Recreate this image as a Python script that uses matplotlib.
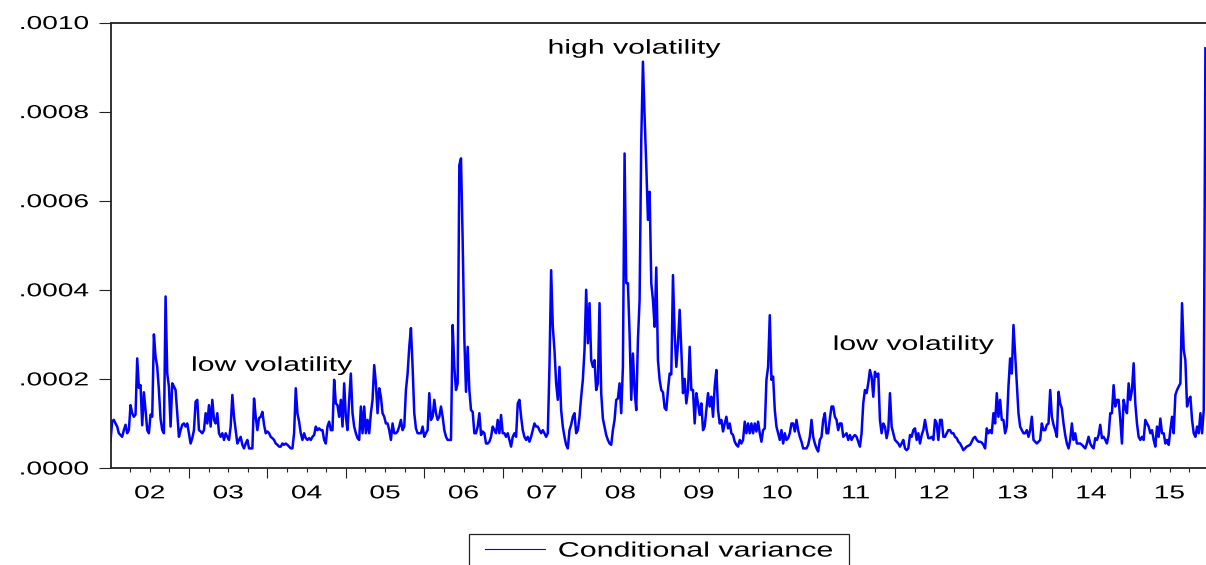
import numpy as np
import matplotlib
matplotlib.use('Agg')
import matplotlib.pyplot as plt
from matplotlib.lines import Line2D
from matplotlib.legend_handler import HandlerLine2D
from matplotlib.patheffects import AbstractPathEffect
from matplotlib.transforms import Affine2D

plt.rcParams['font.family'] = ['Liberation Sans', 'DejaVu Sans']

# conditional variance (units of 1e-4), 47 readings per year
cv_2002 = [0.6, 1.05, 1.08, 1.0, 0.93, 0.78, 0.74, 0.7, 0.85, 0.97, 0.78, 0.85, 1.41, 1.23, 1.15, 1.2,
           2.46, 1.8, 1.86, 0.96, 1.7, 1.3, 0.85, 0.78, 1.2, 1.15, 3.0, 2.5, 2.27, 1.75, 1.1, 0.85,
           0.78, 3.85, 2.12, 1.83, 0.93, 1.9, 1.83, 1.75, 1.23, 0.7, 0.85, 0.97, 1.0, 0.93, 1.0]
cv_2003 = [0.78, 0.55, 0.67, 0.85, 1.49, 1.53, 0.85, 0.82, 0.78, 0.85, 1.23, 1.0, 1.41, 0.93, 1.53, 1.08,
           1.0, 1.23, 0.78, 0.7, 0.78, 0.63, 0.78, 0.7, 0.63, 0.93, 1.64, 1.15, 0.85, 0.55, 0.63, 0.7,
           0.52, 0.44, 0.55, 0.63, 0.44, 0.44, 0.44, 1.56, 1.15, 0.85, 1.12, 1.15, 1.26, 0.97, 0.78]
cv_2004 = [0.82, 0.78, 0.7, 0.67, 0.63, 0.55, 0.52, 0.48, 0.48, 0.55, 0.52, 0.55, 0.52, 0.48, 0.44, 0.44,
           0.78, 1.79, 1.23, 1.04, 0.78, 0.63, 0.78, 0.67, 0.63, 0.67, 0.63, 0.7, 0.74, 0.93, 0.85, 0.89,
           0.85, 0.85, 0.63, 0.55, 0.93, 1.04, 0.85, 0.85, 1.98, 1.45, 1.41, 1.15, 1.53, 0.93, 1.9]
cv_2005 = [1.15, 0.85, 1.53, 2.12, 1.23, 0.93, 0.78, 0.67, 0.63, 1.38, 0.78, 1.38, 0.78, 1.08, 0.78, 1.23,
           1.53, 2.31, 1.9, 1.23, 1.79, 1.6, 1.23, 1.15, 1.0, 1.0, 0.85, 0.63, 1.0, 0.78, 0.78, 0.82,
           0.93, 1.08, 0.85, 0.93, 1.75, 2.12, 2.72, 3.14, 2.27, 1.23, 0.89, 0.78, 0.78, 0.78, 0.93]
cv_2006 = [0.7, 0.78, 0.85, 1.68, 1.08, 1.15, 1.53, 1.23, 1.08, 1.15, 1.38, 1.15, 0.85, 0.7, 0.63, 0.63,
           0.63, 3.21, 2.27, 1.75, 1.9, 6.8, 6.95, 5.1, 2.9, 1.71, 2.72, 1.75, 1.3, 1.26, 0.78, 0.78,
           0.93, 1.23, 0.74, 0.82, 0.78, 0.55, 0.55, 0.59, 0.7, 0.93, 0.85, 0.78, 1.08, 0.78, 1.19]
cv_2007 = [0.78, 0.78, 0.7, 0.78, 0.63, 0.48, 0.7, 0.78, 0.7, 1.45, 1.53, 1.15, 0.85, 0.7, 0.63, 0.7,
           0.59, 0.7, 0.85, 1.0, 0.93, 0.93, 0.85, 0.78, 0.85, 0.78, 0.7, 0.78, 2.27, 4.44, 3.17, 2.65,
           1.9, 1.53, 2.27, 1.3, 0.93, 0.7, 0.52, 0.44, 0.85, 0.97, 1.15, 1.23, 0.78, 0.85, 1.15]
cv_2008 = [1.6, 1.98, 2.65, 4.0, 2.8, 3.7, 2.42, 2.27, 2.42, 1.75, 1.9, 3.7, 1.68, 1.11, 0.93, 0.74,
           0.63, 0.55, 0.52, 0.85, 1.08, 1.53, 1.56, 1.9, 1.23, 2.27, 7.06, 4.15, 4.15, 3.02, 1.53, 2.57,
           1.75, 1.3, 2.87, 3.77, 7.36, 9.12, 7.89, 6.8, 5.57, 6.2, 4.15, 3.77, 3.17, 4.5, 2.42]
cv_2009 = [1.98, 1.75, 1.7, 1.35, 1.3, 1.75, 2.12, 2.1, 4.33, 3.02, 2.27, 2.8, 3.55, 2.65, 1.68, 2.0,
           1.45, 1.75, 2.72, 1.75, 1.75, 1.0, 1.68, 1.45, 1.19, 1.45, 0.85, 0.93, 1.3, 1.68, 1.38, 1.6,
           1.15, 1.83, 2.2, 1.3, 1.0, 1.08, 0.82, 1.0, 1.15, 0.89, 1.0, 0.78, 0.74, 0.59, 0.52]
cv_2010 = [0.48, 0.63, 0.55, 0.63, 1.04, 0.78, 1.0, 0.78, 1.0, 0.78, 1.0, 0.82, 1.04, 0.78, 0.59, 0.85,
           0.89, 1.98, 2.27, 3.43, 1.98, 2.05, 1.3, 0.93, 0.78, 0.63, 0.85, 0.55, 0.78, 0.63, 0.67, 0.78,
           1.0, 1.0, 0.82, 1.08, 0.85, 0.7, 0.59, 0.44, 0.44, 0.44, 0.52, 0.7, 1.08, 0.7, 0.55]
cv_2011 = [0.44, 0.37, 0.63, 0.7, 1.08, 1.23, 0.78, 0.78, 1.11, 1.38, 1.38, 1.15, 1.08, 0.85, 1.0, 1.0,
           0.7, 0.74, 0.78, 0.63, 0.74, 0.63, 0.7, 0.74, 0.7, 0.59, 0.48, 0.78, 1.45, 1.75, 1.68, 1.9,
           2.2, 2.05, 1.6, 2.16, 2.05, 2.12, 1.08, 0.78, 1.0, 0.93, 0.67, 0.85, 1.68, 0.93, 0.78]
cv_2012 = [0.63, 0.59, 0.55, 0.48, 0.55, 0.63, 0.44, 0.4, 0.44, 0.74, 0.7, 0.85, 0.89, 0.63, 0.78, 0.55,
           0.74, 0.85, 1.08, 0.85, 0.67, 0.67, 0.7, 0.63, 1.08, 1.0, 0.63, 1.08, 1.08, 0.7, 0.7, 0.78,
           0.85, 0.85, 0.78, 0.78, 0.7, 0.67, 0.59, 0.55, 0.48, 0.4, 0.44, 0.48, 0.5, 0.52, 0.59]
cv_2013 = [0.67, 0.7, 0.63, 0.59, 0.59, 0.57, 0.52, 0.44, 0.89, 0.78, 0.85, 0.78, 1.23, 1.0, 1.68, 1.15,
           1.53, 1.08, 1.08, 0.78, 0.93, 1.83, 2.46, 2.12, 3.21, 2.57, 1.9, 1.23, 0.93, 0.85, 0.78, 0.78,
           0.85, 0.7, 0.85, 1.15, 0.63, 0.59, 0.55, 0.59, 0.63, 1.0, 0.85, 0.85, 0.97, 1.0, 1.75]
cv_2014 = [1.15, 0.97, 0.85, 0.7, 1.71, 1.45, 1.34, 1.0, 0.74, 0.55, 0.44, 0.63, 1.0, 0.63, 0.78, 0.55,
           0.55, 0.55, 0.52, 0.48, 0.44, 0.55, 0.7, 0.55, 0.48, 0.44, 0.67, 0.63, 0.74, 0.97, 0.67, 0.7,
           0.63, 0.55, 0.74, 1.23, 1.23, 1.86, 1.38, 1.53, 1.53, 1.08, 0.55, 1.53, 1.34, 1.23, 1.9]
cv_2015 = [1.53, 1.75, 2.35, 1.45, 1.0, 0.7, 0.63, 0.7, 0.63, 1.08, 1.0, 0.93, 0.78, 0.85, 0.63, 0.48,
           0.93, 0.7, 1.11, 0.78, 0.78, 0.55, 0.63, 0.52, 0.85, 1.15, 0.78, 1.64, 1.75, 1.83, 1.9, 3.7,
           2.65, 2.42, 1.38, 1.53, 1.6, 1.08, 0.78, 0.7, 0.93, 0.78, 1.23, 0.78, 1.3, 9.42]

years = list(range(2002, 2016))
year_labels = ['02', '03', '04', '05', '06', '07', '08', '09', '10', '11', '12', '13', '14', '15']
y_ticks = [0.0, 0.0002, 0.0004, 0.0006, 0.0008, 0.0010]
y_labels = ['.0000', '.0002', '.0004', '.0006', '.0008', '.0010']

series = [cv_2002, cv_2003, cv_2004, cv_2005, cv_2006, cv_2007, cv_2008,
          cv_2009, cv_2010, cv_2011, cv_2012, cv_2013, cv_2014, cv_2015]
t, v = [], []
for yr, vals in zip(years, series):
    t.extend(yr + np.arange(len(vals)) / 47.0)
    v.extend(vals)
t = np.array(t)
v = np.array(v) * 1e-4


class Stretch(AbstractPathEffect):
    # widen glyphs horizontally (the source output has stretched text)
    def __init__(self, sx, anchor=0.5):
        super().__init__()
        self.sx = sx
        self.anchor = anchor

    def draw_path(self, renderer, gc, tpath, affine, rgbFace=None):
        ext = tpath.get_extents()
        x0 = ext.x0 + self.anchor * ext.width
        tr = Affine2D().translate(-x0, 0).scale(self.sx, 1).translate(x0, 0) + affine
        renderer.draw_path(gc, tpath, tr, rgbFace)


SX = 1.5
fig = plt.figure(figsize=(12.06, 5.65), dpi=100)
ax = fig.add_axes([110.5 / 1206, 1 - 468 / 565, 1 - 110.5 / 1206, (468 - 22.5) / 565])

ax.plot(t, v, color='#0000ff', lw=1.8)

ax.set_xlim(2002, 2015.965)
ax.set_ylim(0, 0.001)

for s in ['left', 'top', 'bottom']:
    ax.spines[s].set_linewidth(1.3)
    ax.spines[s].set_color('#222222')
ax.spines['right'].set_visible(False)

ax.set_yticks(y_ticks, y_labels)
ax.tick_params(axis='y', length=9, width=0.8, pad=6.5, labelsize=13.5, color='#222222')
for lab in ax.get_yticklabels():
    lab.set_path_effects([Stretch(SX, 1.0)])

ax.set_xticks([y + q / 4 for y in years for q in (1, 2, 3)])
ax.set_xticks(years[1:], minor=True)
ax.tick_params(axis='x', which='major', length=3.2, width=0.8, labelbottom=False, color='#222222')
ax.tick_params(axis='x', which='minor', length=7, width=0.8, labelbottom=False, color='#222222')

sec = ax.secondary_xaxis('bottom')
sec.set_xticks([y + 0.5 for y in years], year_labels)
sec.tick_params(length=0, pad=12.5, labelsize=13.5)
sec.spines['bottom'].set_visible(False)
for lab in sec.get_xticklabels():
    lab.set_path_effects([Stretch(SX, 0.5)])

notes = [('high volatility', 2008.68, 9.30e-4),
         ('low volatility', 2004.06, 2.18e-4),
         ('low volatility', 2012.24, 2.65e-4)]
for txt, x, y in notes:
    ax.text(x, y, txt, ha='center', va='baseline', fontsize=14.5,
            path_effects=[Stretch(SX, 0.5)])

handle = Line2D([], [], color='#0000ff', lw=0.8)
leg = fig.legend([handle], ['Conditional variance'], loc='upper left',
                 bbox_to_anchor=(469.3 / 1206, 0.0, 380 / 1206, 1 - 534.3 / 565),
                 mode='expand', borderaxespad=0, borderpad=0.35, handlelength=3.28,
                 handletextpad=0.64, fontsize=15, fancybox=False, framealpha=1,
                 edgecolor='#222222', handler_map={Line2D: HandlerLine2D(xpad=0.4)})
leg.get_frame().set_linewidth(0.9)
leg.get_texts()[0].set_path_effects([Stretch(1.46, 0.0)])

fig.savefig('out.png', dpi=100)
